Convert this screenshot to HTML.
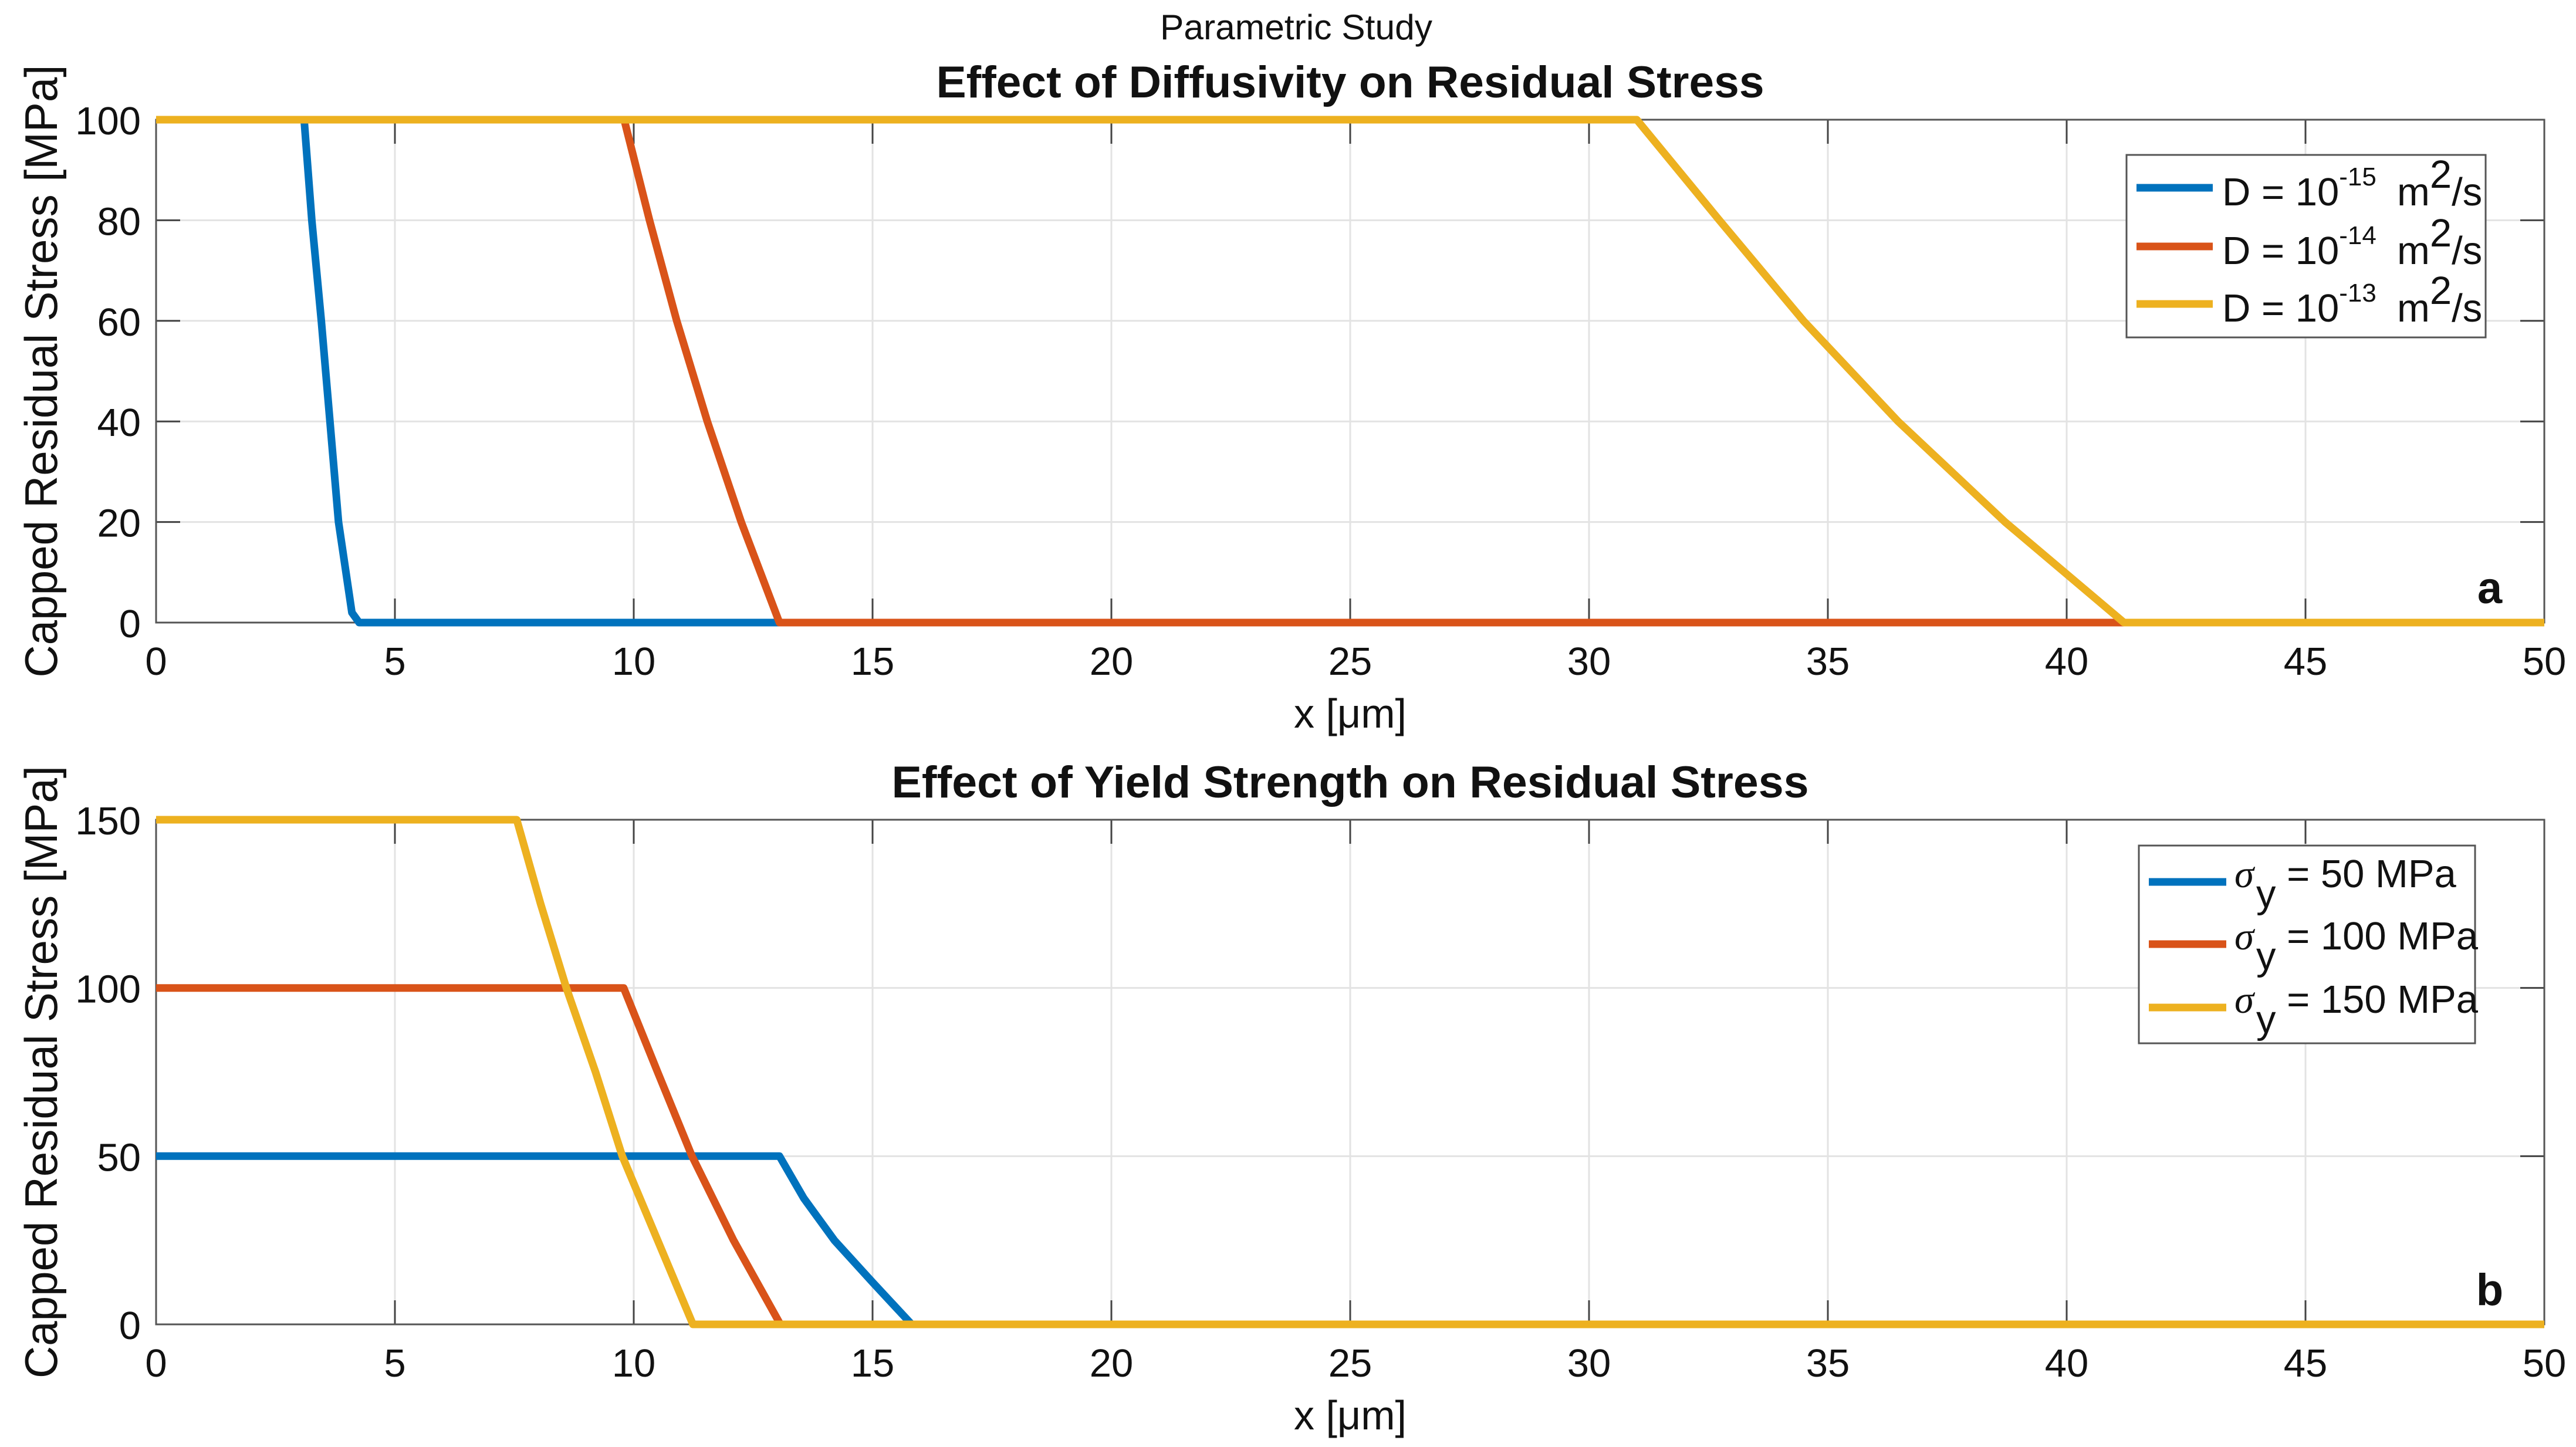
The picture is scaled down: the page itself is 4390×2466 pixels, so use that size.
<!DOCTYPE html>
<html><head><meta charset="utf-8"><style>
html,body{margin:0;padding:0;background:#fff}
svg{display:block}
text{font-family:"Liberation Sans",Arial,sans-serif;fill:#111}
</style></head><body>
<svg id="fig" width="4390" height="2466" viewBox="0 0 4390 2466" xmlns="http://www.w3.org/2000/svg">
<text x="2209" y="67" font-size="60" text-anchor="middle" textLength="464" lengthAdjust="spacingAndGlyphs">Parametric Study</text>
<g id="pa"></g>
<g id="pb"></g>
</svg>
<script>
// ---- data: plot a (diffusivity) ----
const aBlueX = [0, 3.1, 3.26, 3.46, 3.64, 3.82, 4.1, 4.25, 50];
const aBlueY = [100, 100, 80, 60, 40, 20, 2, 0, 0];
const aRedX = [0, 9.8, 10.33, 10.9, 11.54, 12.25, 13.05, 50];
const aRedY = [100, 100, 80, 60, 40, 20, 0, 0];
const aYelX = [0, 31, 32.73, 34.49, 36.47, 38.71, 41.2, 50];
const aYelY = [100, 100, 80, 60, 40, 20, 0, 0];
const aYTicks = [0, 20, 40, 60, 80, 100];
// ---- data: plot b (yield strength) ----
const bBlueX = [0, 13.05, 13.56, 14.2, 15.0, 15.82, 50];
const bBlueY = [50, 50, 37.5, 25, 12.5, 0, 0];
const bRedX = [0, 9.79, 10.5, 11.22, 12.09, 13.07, 50];
const bRedY = [100, 100, 75, 50, 25, 0, 0];
const bYelX = [0, 7.55, 8.05, 8.59, 9.2, 9.76, 10.5, 11.24, 50];
const bYelY = [150, 150, 125, 100, 75, 50, 25, 0, 0];
const bYTicks = [0, 50, 100, 150];
const xTicks = [0, 5, 10, 15, 20, 25, 30, 35, 40, 45, 50];

const NS = "http://www.w3.org/2000/svg";
const C = ["#0072BD", "#D95319", "#EDB120"];
function mk(tag, attrs, parent) {
  const e = document.createElementNS(NS, tag);
  for (const k in attrs) e.setAttribute(k, attrs[k]);
  parent.appendChild(e);
  return e;
}
function plot(g, top, bot, ymax, yTicks, series, title, titleLen, panel, legendFn) {
  const L = 266, R = 4336;
  const sx = v => L + (v / 50) * (R - L);
  const sy = v => bot - (v / ymax) * (bot - top);
  xTicks.forEach(t => {
    const l = mk("line", {x1: sx(t), x2: sx(t), y1: top, y2: bot, stroke: "#e3e3e3", "stroke-width": 3}, g);
    
    
  });
  yTicks.forEach(t => {
    const l = mk("line", {x1: L, x2: R, y1: sy(t), y2: sy(t), stroke: "#e3e3e3", "stroke-width": 3}, g);
    
    
  });
  xTicks.forEach(t => {
    const a = mk("path", {d: `M${sx(t)},${bot}v-41M${sx(t)},${top}v41`, stroke: "#444", "stroke-width": 3, fill: "none"}, g);
    
    
    const tx = mk("text", {x: sx(t), y: bot + 89, "font-size": 67, "text-anchor": "middle"}, g);
    tx.textContent = t;
    
    
  });
  yTicks.forEach(t => {
    const a = mk("path", {d: `M${L},${sy(t)}h41M${R},${sy(t)}h-41`, stroke: "#444", "stroke-width": 3, fill: "none"}, g);
    
    
    const tx = mk("text", {x: 240, y: sy(t) + 25, "font-size": 67, "text-anchor": "end"}, g);
    tx.textContent = t;
    
    
  });
  const box = mk("rect", {x: L, y: top, width: R - L, height: bot - top, fill: "none", stroke: "#555", "stroke-width": 3}, g);
  
  
  series.forEach((s, i) => {
    const d = s[0].map((x, j) => (j ? "L" : "M") + sx(x).toFixed(1) + "," + sy(s[1][j]).toFixed(1)).join("");
    const p = mk("path", {d: d, stroke: C[i], "stroke-width": 13, fill: "none", "stroke-linejoin": "round"}, g);
    
    
  });
  const ti = mk("text", {x: 2301, y: top - 38, "font-size": 76, "font-weight": "bold", "text-anchor": "middle", textLength: titleLen, lengthAdjust: "spacingAndGlyphs"}, g);
  ti.textContent = title;
  
  
  const xl = mk("text", {x: 2301, y: bot + 179, "font-size": 70, "text-anchor": "middle"}, g);
  xl.textContent = "x [μm]";
  
  
  const cy = (top + bot) / 2;
  const yl = mk("text", {x: 0, y: 0, "font-size": 78, "text-anchor": "middle", textLength: 1044, lengthAdjust: "spacingAndGlyphs", transform: `translate(97,${cy}) rotate(-90)`}, g);
  yl.textContent = "Capped Residual Stress [MPa]";
  
  
  const pl = mk("text", {x: 4243, y: bot - 33, "font-size": 76, "font-weight": "bold", "text-anchor": "middle"}, g);
  pl.textContent = panel;
  
  
  legendFn(g);
}
const pa = document.getElementById("pa");
plot(pa, 204, 1061, 100, aYTicks, [[aBlueX, aBlueY], [aRedX, aRedY], [aYelX, aYelY]],
  "Effect of Diffusivity on Residual Stress", 1411, "a", g => {
  const lg = mk("g", {}, g);
  
  
  mk("rect", {x: 3624, y: 264, width: 612, height: 311, fill: "#fff", stroke: "#555", "stroke-width": 3}, lg);
  const exps = ["-15", "-14", "-13"];
  [320, 420, 518].forEach((y, i) => {
    const l = mk("line", {x1: 3641, x2: 3771, y1: y, y2: y, stroke: C[i], "stroke-width": 13}, lg);
    
    
    const t = mk("text", {x: 3787, y: y + 30, "font-size": 67}, lg);
    t.innerHTML = `D = 10<tspan font-size="44" dy="-34">${exps[i]}</tspan>`;
    
    
    const u = mk("text", {x: 4085, y: y + 30, "font-size": 67}, lg);
    u.innerHTML = `m<tspan font-size="67" dy="-30">2</tspan><tspan dy="30">/s</tspan>`;
    
    
  });
});
const pb = document.getElementById("pb");
plot(pb, 1397, 2257, 150, bYTicks, [[bBlueX, bBlueY], [bRedX, bRedY], [bYelX, bYelY]],
  "Effect of Yield Strength on Residual Stress", 1563, "b", g => {
  const lg = mk("g", {}, g);
  
  
  mk("rect", {x: 3645, y: 1441, width: 573, height: 337, fill: "#fff", stroke: "#555", "stroke-width": 3}, lg);
  const vals = ["50", "100", "150"];
  [1503, 1609, 1717].forEach((y, i) => {
    const l = mk("line", {x1: 3662, x2: 3794, y1: y, y2: y, stroke: C[i], "stroke-width": 13}, lg);
    
    
    const t = mk("text", {x: 3808, y: y + 9, "font-size": 67}, lg);
    t.innerHTML = `<tspan font-family="Liberation Serif" font-style="italic">σ</tspan><tspan dy="34" dx="4">y</tspan><tspan dy="-34"> = ${vals[i]} MPa</tspan>`;
    
    
  });
});
</script>
</body></html>
